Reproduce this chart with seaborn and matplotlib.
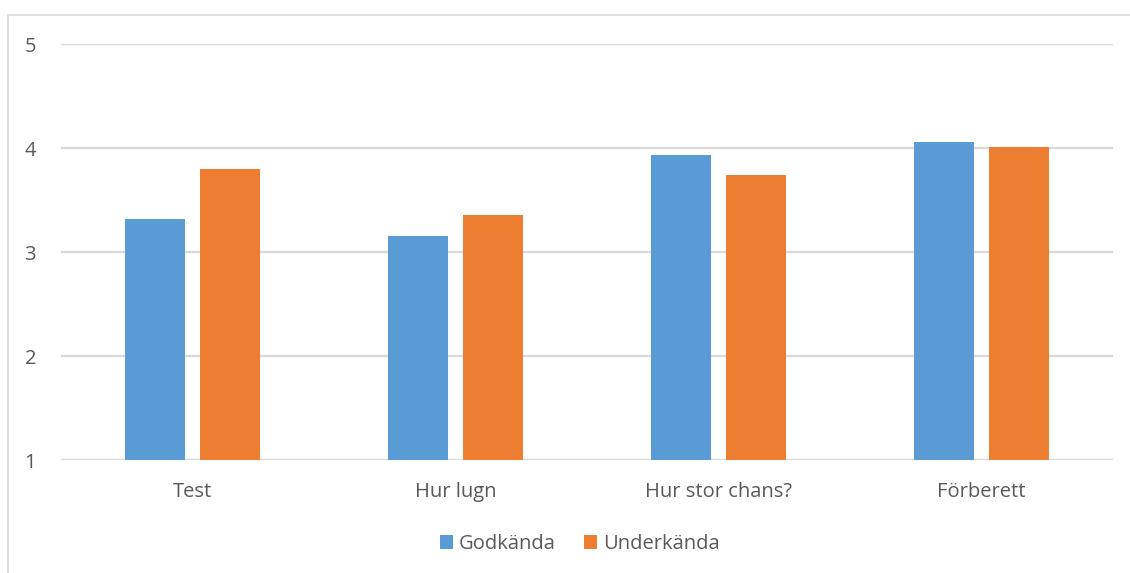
import matplotlib
matplotlib.use("Agg")
import matplotlib.pyplot as plt
from matplotlib.patches import Rectangle
import seaborn as sns
import pandas as pd

categories = ["Test", "Hur lugn", "Hur stor chans?", "Förberett"]
godkanda = [3.32, 3.15, 3.93, 4.06]
underkanda = [3.80, 3.36, 3.74, 4.01]
series_names = ["Godkända", "Underkända"]
y_ticks = [1, 2, 3, 4, 5]

df = pd.DataFrame({
    "Kategori": categories * 2,
    "Grupp": [series_names[0]] * len(categories) + [series_names[1]] * len(categories),
    "Värde": godkanda + underkanda,
})

sns.set_theme(style="white")
plt.rcParams["font.family"] = ["Open Sans", "DejaVu Sans"]
text_color = "#595959"
grid_color = "#D9D9D9"
fs = 14.5

fig = plt.figure(figsize=(11.3, 5.73), dpi=100)
ax = fig.add_axes([61 / 1130, 1 - 460 / 573, (1113 - 61) / 1130, (460 - 44) / 573])

sns.barplot(
    data=df, x="Kategori", y="Värde", hue="Grupp", ax=ax,
    palette=["#5B9BD5", "#ED7D31"], width=0.57, gap=0.2,
    saturation=1, legend=True, errorbar=None, linewidth=0,
)

ax.set_ylim(1, 5)
ax.set_xlim(-0.5, len(categories) - 0.5)
ax.set_yticks(y_ticks)
ax.set_yticklabels([str(t) for t in y_ticks])
ax.yaxis.grid(True, color=grid_color, linewidth=1.7)
ax.set_axisbelow(True)
for s in ax.spines.values():
    s.set_visible(False)
ax.tick_params(axis="y", length=0, pad=18, labelsize=fs, labelcolor=text_color)
ax.tick_params(axis="x", length=0, pad=16, labelsize=fs, labelcolor=text_color)
ax.set_xlabel("")
ax.set_ylabel("")

handles, labels = ax.get_legend_handles_labels()
ax.get_legend().remove()
fig.legend(
    handles, labels, loc="center", bbox_to_anchor=(580 / 1130, 1 - 544 / 573),
    ncol=2, frameon=False, fontsize=fs, labelcolor=text_color,
    handlelength=0.65, handleheight=0.65, handletextpad=0.3, columnspacing=1.4,
)

# light frame around the chart
fig.patches.append(Rectangle((8 / 1130, -0.05), 1.2, 1 - 15 / 573 + 0.05,
                             transform=fig.transFigure, fill=False,
                             edgecolor="#D9D9D9", linewidth=1.2))

fig.savefig("out.png", dpi=100, facecolor="white")
